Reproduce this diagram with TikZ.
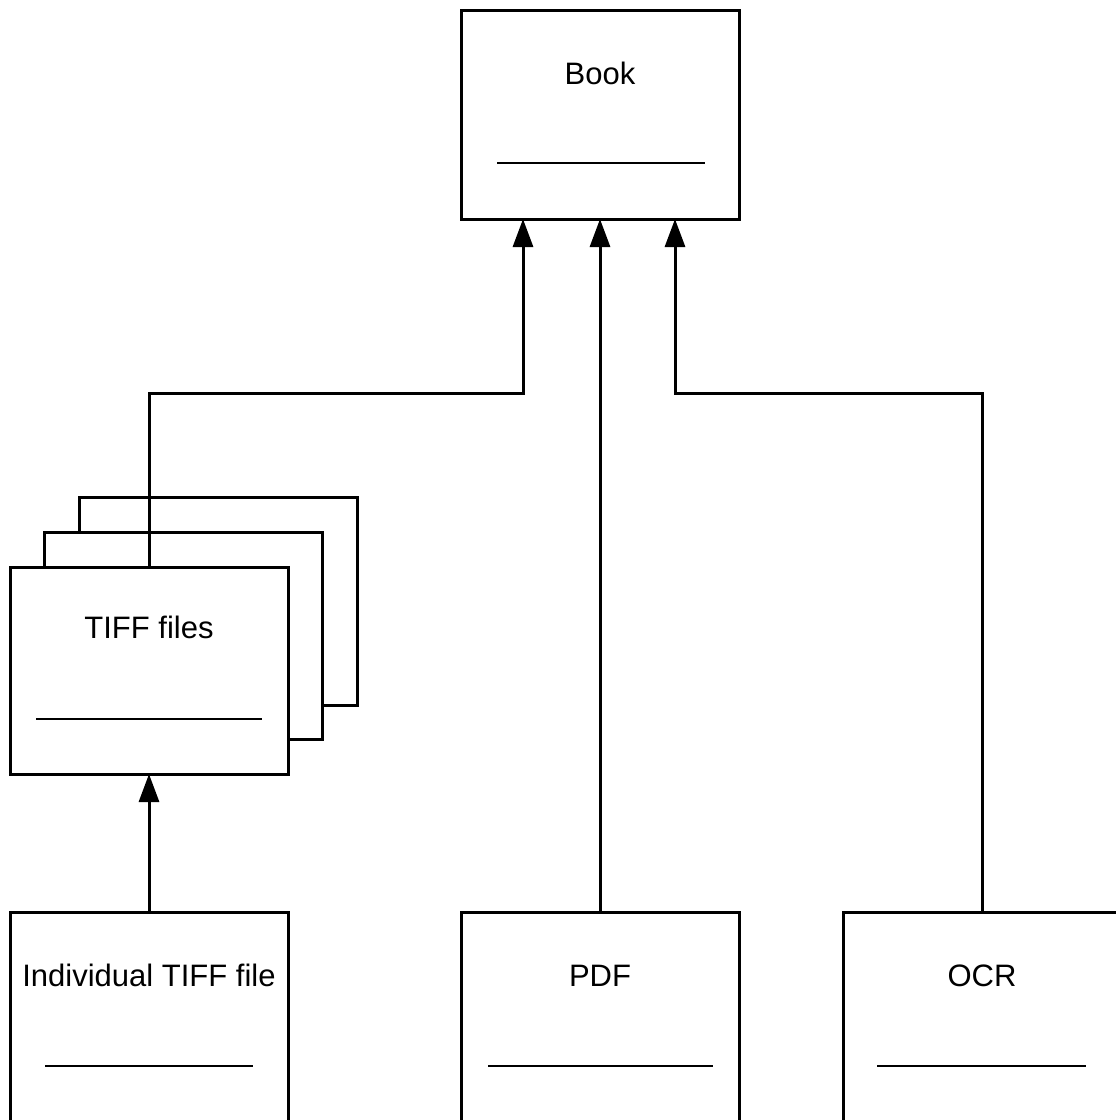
\documentclass[tikz,border=0pt]{standalone}
\usepackage{fontspec}
\setmainfont{Liberation Sans}
\usetikzlibrary{arrows.meta}
\begin{document}
\begin{tikzpicture}[x=1pt,y=-1pt,
  box/.style={draw=black, line width=3pt, fill=white, minimum width=278pt, minimum height=208pt, inner sep=0pt, outer sep=0pt},
  lbl/.style={font=\fontsize{31}{36}\selectfont, inner sep=0pt, anchor=base},
  uline/.style={line width=2pt},
  conn/.style={line width=3pt, -{Triangle[length=28pt,width=20pt]}}
]
\useasboundingbox (0,0) rectangle (1116,1120);
\clip (0,0) rectangle (1116,1120);
% Book
\node[box, minimum height=209pt] (book) at (600,114.5) {};
\node[lbl] (booklbl) at (600,84) {Book};
\draw[uline] (497,163) -- (705,163);
% TIFF files stack
\node[box, minimum height=208pt] (tiff3) at (218,601) {};
\node[box, minimum height=207pt] (tiff2) at (183,635.5) {};
\node[box, minimum height=207pt] (tiff) at (149,670.5) {};
\node[lbl] (tifflbl) at (149,638) {TIFF files};
\draw[uline] (36,719) -- (262,719);
% bottom boxes
\node[box, minimum height=218pt] (ind) at (149,1021) {};
\node[lbl] (indlbl) at (149,986) {Individual TIFF file};
\draw[uline] (45,1066) -- (253,1066);
\node[box, minimum height=218pt] (pdf) at (600,1021) {};
\node[lbl] (pdflbl) at (600,986) {PDF};
\draw[uline] (488,1066) -- (713,1066);
\node[box, minimum height=218pt] (ocr) at (982,1021) {};
\node[lbl] (ocrlbl) at (982,986) {OCR};
\draw[uline] (877,1066) -- (1086,1066);
% connectors
\coordinate (j1) at (523,393);
\coordinate (j2) at (675,393);
\draw[conn] (tiff.north) |- (j1) -- (j1 |- book.south);
\draw[conn] (pdf.north) -- (pdf.north |- book.south);
\draw[conn] (ocr.north) |- (j2) -- (j2 |- book.south);
\draw[conn] (ind.north) -- (tiff.south);
\end{tikzpicture}
\end{document}
